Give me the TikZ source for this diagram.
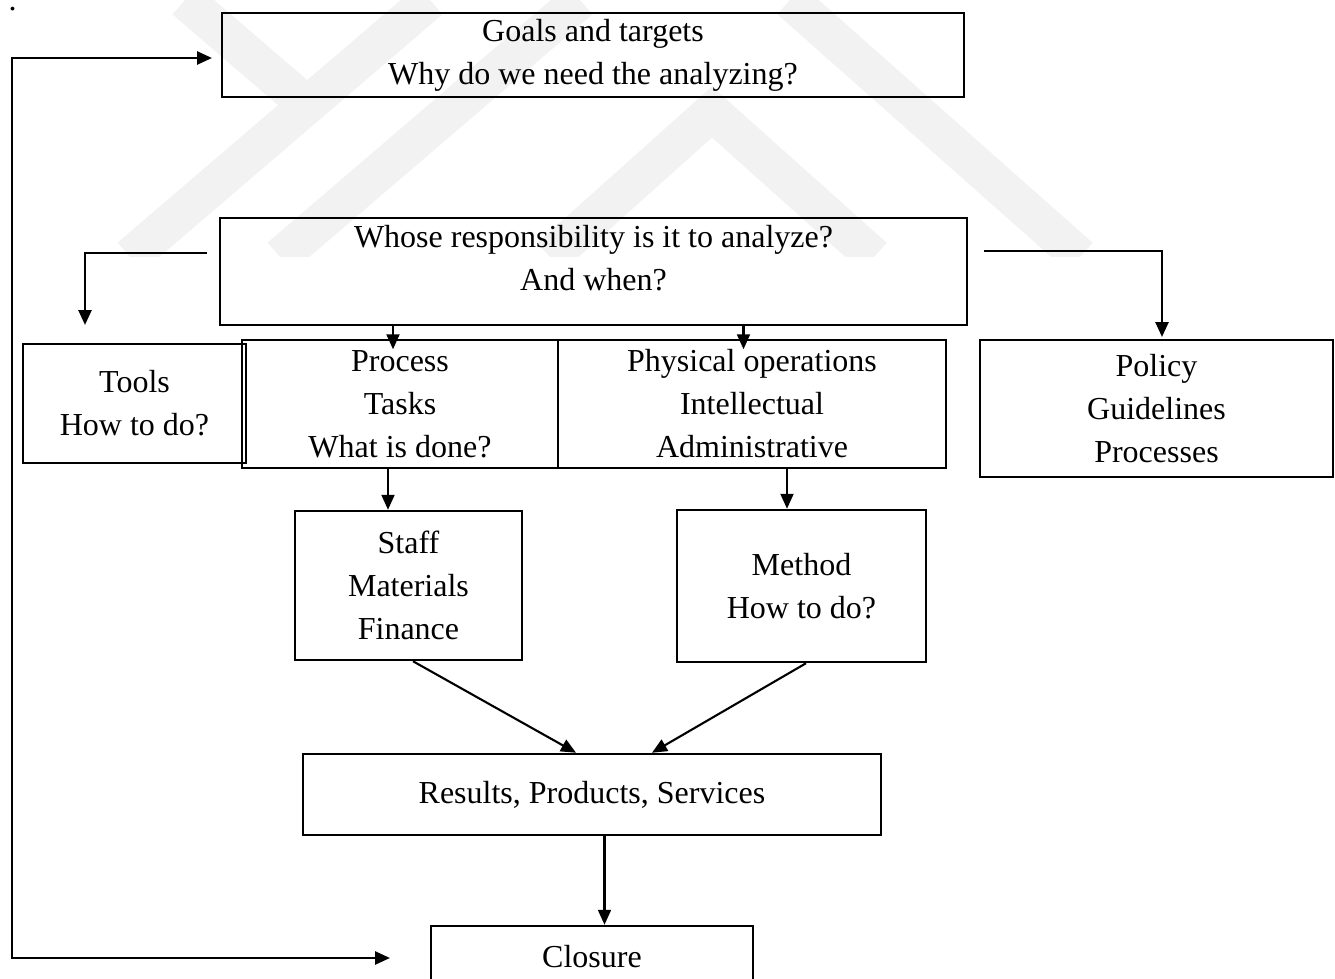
\documentclass[tikz,border=0pt]{standalone}
\usepackage{fontspec}
\setmainfont{Liberation Serif}
\usetikzlibrary{arrows.meta}
\begin{document}
\begin{tikzpicture}[x=0.5pt,y=-0.5pt,
  box/.style={draw=black, line width=1.25pt, inner sep=0pt, align=center, font=\fontsize{16}{21.5}\selectfont},
  txt/.style={inner sep=0pt, align=center, font=\fontsize{16}{21.5}\selectfont},
  conn/.style={line width=1.05pt, -{Triangle[length=7.5pt,width=6.5pt]}},
  thickconn/.style={line width=1.3pt, -{Triangle[length=7.5pt,width=6.5pt]}},
  wm/.style={black!5, line width=19pt, line join=miter},
]
\clip (0,0) rectangle (1335,979);
\fill[white] (0,0) rectangle (1335,979);
% faint watermark
\begin{scope}
\clip (0,0) rectangle (1335,257);
\draw[wm] (130,257) -- (430,0);
\draw[wm] (185,0) -- (307,105);
\draw[wm] (280,257) -- (580,0);
\draw[wm] (550,257) -- (712,112) -- (874,257);
\draw[wm] (790,0) -- (1080,257);
\end{scope}

\node[txt] (dot) at (12.7,9) {.};

\node[box, minimum width=371pt, minimum height=42pt] (goals) at (593,55) {Goals and targets\\Why do we need the analyzing?};
\node[box, minimum width=373.5pt, minimum height=53.5pt] (whose) at (593.5,271.5) {};
\node[txt] (whoseT) at (593.5,258.5) {Whose responsibility is it to analyze?\\And when?};
\node[box, minimum width=111.5pt, minimum height=59.5pt] (tools) at (134.5,403.5) {Tools\\How to do?};
\node[box, minimum width=158pt, minimum height=64pt] (procL) at (400,404) {Process\\Tasks\\What is done?};
\node[box, minimum width=194pt, minimum height=64pt] (procR) at (752,404) {Physical operations\\Intellectual\\Administrative};
\node[box, minimum width=176.5pt, minimum height=68.5pt] (policy) at (1156.5,408.5) {Policy\\Guidelines\\Processes};
\node[box, minimum width=113.5pt, minimum height=74.5pt] (staff) at (408.5,585.5) {Staff\\Materials\\Finance};
\node[box, minimum width=124.5pt, minimum height=76pt] (method) at (801.5,586) {Method\\How to do?};
\node[box, minimum width=289pt, minimum height=40.5pt] (results) at (592,794.5) {Results, Products, Services};
\node[box, minimum width=161pt, minimum height=31pt] (closure) at (592,957) {Closure};

% connector helper coordinates
\coordinate (wlS) at (207,253);
\coordinate (wlE) at (85,325);
\coordinate (wrS) at (984,251);
\coordinate (wrE) at (1162,337);
\coordinate (pA) at (393,0);
\coordinate (pB) at (743.5,0);
\coordinate (sA) at (388,0);
\coordinate (mA) at (787,0);
\coordinate (s2) at (413,0);
\coordinate (r1) at (576,0);
\coordinate (m2) at (806,0);
\coordinate (r2) at (652,0);
\coordinate (cA) at (604.5,0);
\coordinate (g1) at (212,58);
\coordinate (lp1) at (12,58);
\coordinate (lp2) at (12,958);
\coordinate (c0) at (390,958);

\draw[thickconn] (wlS) -| (wlE);
\draw[thickconn] (wrS) -| (wrE);
\draw[conn] (whose.south -| pA) -- ++(0,23);
\draw[conn] (whose.south -| pB) -- ++(0,23);
\draw[conn] (procL.south -| sA) -- (staff.north -| sA);
\draw[conn] (procR.south -| mA) -- (method.north -| mA);
\draw[conn] (staff.south -| s2) -- (results.north -| r1);
\draw[conn] (method.south -| m2) -- (results.north -| r2);
\draw[conn] (results.south -| cA) -- (closure.north -| cA);
\draw[line width=1.3pt, {Triangle[length=7.5pt,width=6.5pt]}-{Triangle[length=7.5pt,width=6.5pt]}] (g1) -- (lp1) -- (lp2) -- (c0);
\end{tikzpicture}
\end{document}
